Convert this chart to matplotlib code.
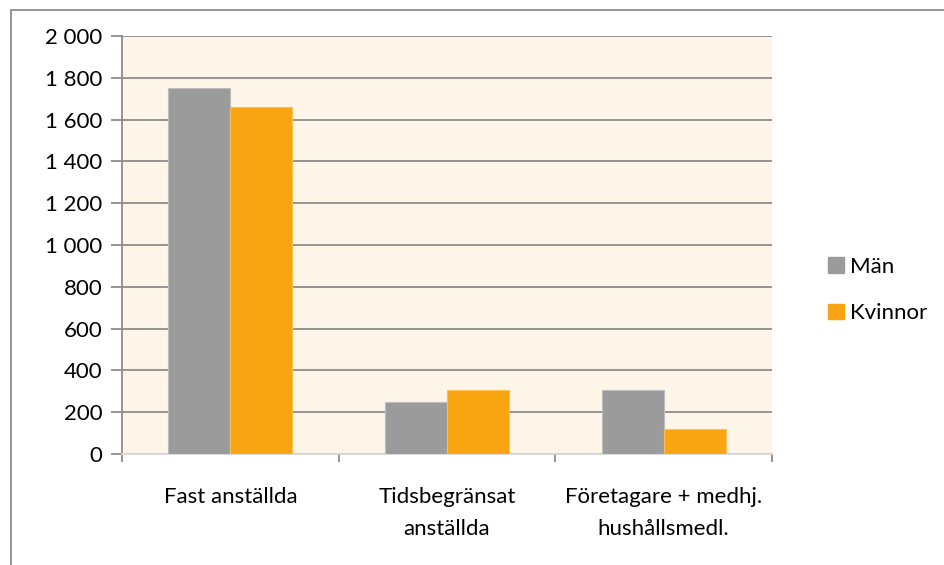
import numpy as np
import matplotlib.pyplot as plt
from matplotlib.patches import Rectangle, Patch

categories = ['Fast anställda', 'Tidsbegränsat\nanställda', 'Företagare + medhj.\nhushållsmedl.']
man = [1750, 250, 305]
kvinnor = [1660, 305, 120]
yticks = [0, 200, 400, 600, 800, 1000, 1200, 1400, 1600, 1800, 2000]
ytick_labels = ['0', '200', '400', '600', '800', '1 000', '1 200', '1 400', '1 600', '1 800', '2 000']

plt.rcParams['font.family'] = ['Lato', 'DejaVu Sans']
fs = 16

W, H = 944, 565
fig = plt.figure(figsize=(W / 100, H / 100), dpi=100)
ax = fig.add_axes([122 / W, 1 - 454 / H, (772 - 122) / W, (454 - 36) / H])

# outer chart border
fig.patches.append(Rectangle((10.5 / W, -0.01), 1.0, 1 - 9.5 / H + 0.01, transform=fig.transFigure,
                             fill=False, edgecolor='#8c8c8c', linewidth=1.3))

x = np.arange(len(categories))
w = 0.286
ax.bar(x - w / 2, man, w, color='#9b9b9b', edgecolor='#bdbdbd', linewidth=0.8, label='Män', zorder=3)
ax.bar(x + w / 2, kvinnor, w, color='#f9a512', edgecolor='#fbbf55', linewidth=0.8, label='Kvinnor', zorder=3)

ax.set_facecolor('#fdf5e8')
ax.set_xlim(-0.5, 2.5)
ax.set_ylim(0, 2000)
ax.set_yticks(yticks)
ax.set_yticklabels(ytick_labels, fontsize=fs)
ax.grid(axis='y', color='#8c8c8c', linewidth=1.3, zorder=1)
ax.tick_params(axis='y', length=8, width=1.3, color='#8c8c8c', pad=6)

ax.set_xticks([-0.5, 0.5, 1.5, 2.5])
ax.set_xticklabels([])
ax.tick_params(axis='x', length=6, width=1.3, color='#8c8c8c')
for i, c in enumerate(categories):
    ax.text(i, -0.078, c, transform=ax.get_xaxis_transform(), ha='center', va='top',
            fontsize=fs, linespacing=1.75)

for s in ['top', 'right']:
    ax.spines[s].set_visible(False)
ax.spines['left'].set_color('#8c8c8c')
ax.spines['left'].set_linewidth(1.3)
ax.spines['bottom'].set_color('#d9d9d9')
ax.spines['bottom'].set_linewidth(1.3)

handles = [Patch(color='#9b9b9b', label='Män'), Patch(color='#f9a512', label='Kvinnor')]
fig.legend(handles=handles, loc='center left', bbox_to_anchor=(808 / W, 1 - 290 / H),
           frameon=False, fontsize=fs, handlelength=0.7, handleheight=0.7,
           handletextpad=0.3, labelspacing=1.2)

fig.savefig('out.png', dpi=100)
